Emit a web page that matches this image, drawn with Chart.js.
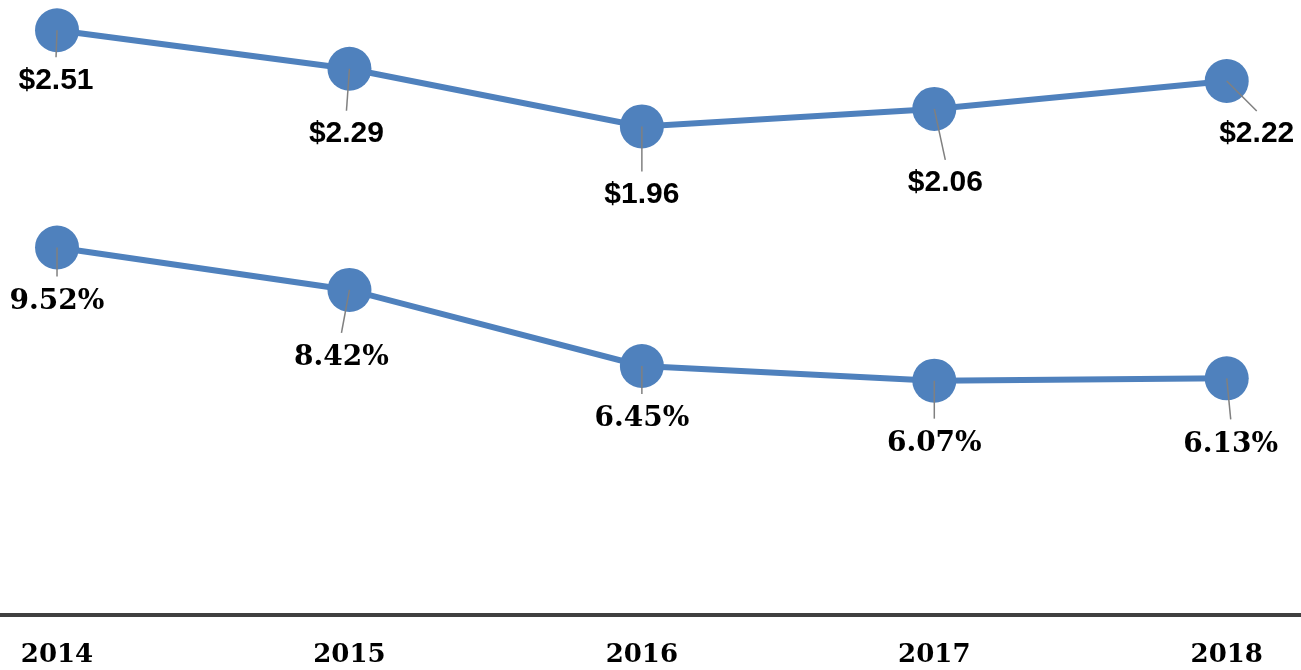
<!DOCTYPE html>
<html>
<head>
<meta charset="utf-8">
<script src="https://cdn.jsdelivr.net/npm/chart.js@4.4.0/dist/chart.umd.min.js"></script>
<style>
  html, body { margin: 0; padding: 0; background: #fff; }
  #wrap { width: 1301px; height: 670px; }
</style>
</head>
<body>
<div id="wrap"><canvas id="lineCanva" width="1301" height="670"></canvas></div>
<script>
// Data
var years = [2014, 2015, 2016, 2017, 2018];
var dollarValues = [2.51, 2.29, 1.96, 2.06, 2.22];
var percentValues = [9.52, 8.42, 6.45, 6.07, 6.13];

// Label placement (offset from point centre, in px)
var dollarLabelOffsets = [[-1, 50], [-3, 65], [0, 68], [11, 74], [30, 53]];
var percentLabelOffsets = [[0, 54], [-8, 68], [0, 53], [0, 63], [4, 66]];

var blue = '#4F81BD';

function toPoints(vals) {
    return vals.map(function (v, i) { return { x: years[i], y: v }; });
}

// Draw value labels with leader lines
var leaderLabels = {
    id: 'leaderLabels',
    afterDatasetsDraw: function (chart) {
        var ctx = chart.ctx;
        chart.data.datasets.forEach(function (ds, di) {
            var meta = chart.getDatasetMeta(di);
            meta.data.forEach(function (pt, i) {
                var off = ds.labelOffsets[i];
                var lx = pt.x + off[0];
                var ly = pt.y + off[1];
                ctx.save();
                ctx.strokeStyle = '#808080';
                ctx.lineWidth = 1.5;
                ctx.beginPath();
                ctx.moveTo(pt.x, pt.y);
                ctx.lineTo(lx, ly - ds.leaderGap);
                ctx.stroke();
                ctx.fillStyle = '#000';
                ctx.font = ds.labelFont;
                ctx.textAlign = 'center';
                ctx.textBaseline = 'middle';
                ctx.fillText(ds.labelFormat(ds.data[i].y), lx, ly);
                ctx.restore();
            });
        });
    }
};

var chartData = {
    datasets: [
        {
            label: 'Dollar',
            data: toPoints(dollarValues),
            yAxisID: 'yDollar',
            borderColor: blue,
            backgroundColor: blue,
            borderWidth: 6,
            pointRadius: 22,
            pointHoverRadius: 22,
            pointBorderWidth: 0,
            pointBackgroundColor: blue,
            clip: false,
            labelOffsets: dollarLabelOffsets,
            leaderGap: 23,
            labelFont: 'bold 30px "Liberation Sans", Arial, sans-serif',
            labelFormat: function (v) { return '$' + v.toFixed(2); }
        },
        {
            label: 'Percent',
            data: toPoints(percentValues),
            yAxisID: 'yPercent',
            borderColor: blue,
            backgroundColor: blue,
            borderWidth: 6,
            pointRadius: 22,
            pointHoverRadius: 22,
            pointBorderWidth: 0,
            pointBackgroundColor: blue,
            clip: false,
            labelOffsets: percentLabelOffsets,
            leaderGap: 25,
            labelFont: 'bold 28px "DejaVu Serif", serif',
            labelFormat: function (v) { return v.toFixed(2) + '%'; }
        }
    ]
};

var chartOptions = {
    responsive: false,
    animation: false,
    layout: { padding: 0, autoPadding: false },
    scales: {
        x: {
            type: 'linear',
            min: 2013.805,
            max: 2018.254,
            afterBuildTicks: function (scale) {
                scale.ticks = years.map(function (y) { return { value: y }; });
            },
            grid: { display: false, drawTicks: true, tickLength: 25 },
            border: { display: true, color: '#404040', width: 4 },
            ticks: {
                padding: 2,
                color: '#000',
                font: { family: '"DejaVu Serif", serif', size: 26, weight: 'bold', lineHeight: 1 },
                callback: function (value) { return String(value); }
            }
        },
        yDollar: { display: false, min: -0.834, max: 2.683 },
        yPercent: { display: false, min: 0, max: 15.93 }
    },
    plugins: {
        legend: { display: false },
        tooltip: { enabled: false }
    }
};

var ctx = document.getElementById('lineCanva').getContext('2d');
var lineChart = new Chart(ctx, {
    type: 'line',
    data: chartData,
    options: chartOptions,
    plugins: [leaderLabels]
});
</script>
</body>
</html>
